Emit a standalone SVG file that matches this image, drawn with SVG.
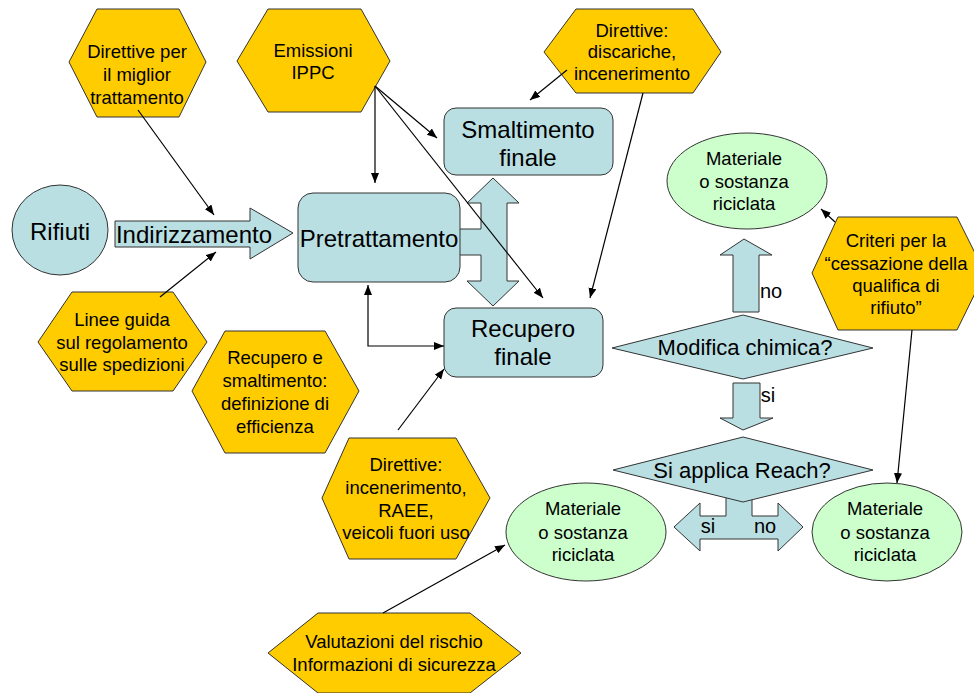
<svg xmlns="http://www.w3.org/2000/svg" width="974" height="693" viewBox="0 0 974 693">
<defs>
<style>
.hex{fill:#FFCC00;stroke:#333;stroke-width:1}
.blue{fill:#B9DFE3;stroke:#333;stroke-width:1}
.green{fill:#CCFFCC;stroke:#333;stroke-width:1}
.t{font-family:"Liberation Sans",Arial,sans-serif;fill:#000;text-anchor:middle}
.s{font-size:18.5px}
.b{font-size:24px}
.d{font-size:22px}
.l{font-size:20px}
.ln{fill:none;stroke:#000;stroke-width:1.2}
</style>
<marker id="ah" markerUnits="userSpaceOnUse" markerWidth="11" markerHeight="9" refX="10" refY="4" orient="auto-start-reverse">
<path d="M0,0 L10,4 L0,8 z" fill="#000"/>
</marker>
</defs>
<rect width="974" height="693" fill="#fff"/>

<g id="block-arrows">
<polygon class="blue" points="493,178 519,203 507,203 507,281 519,281 493,306 467,281 481,281 481,255 459,255 459,229 481,229 481,203 467,203"/>
<polygon class="blue" points="744,239 772,255 759,255 759,312 733,312 733,255 720,255"/>
<polygon class="blue" points="733,383 760,383 760,418 773,418 743,430 720,418 733,418"/>
<polygon class="blue" points="674,527 700,503 700,516 726,516 726,495 752,495 752,516 778,516 778,503 803,527 778,551 778,539 700,539 700,551"/>
</g>

<g id="rifiuti">
<ellipse class="blue" cx="60" cy="230" rx="48" ry="45"/>
<text class="t b" x="60" y="240">Rifiuti</text>
</g>
<g id="indirizzamento">
<polygon class="blue" points="115,221 250,221 250,208 293,233 250,259 250,247 115,247"/>
<text class="t b" x="194" y="243">Indirizzamento</text>
</g>
<g id="pretrattamento">
<rect class="blue" x="298" y="193" width="162" height="89" rx="15"/>
<text class="t b" x="379" y="247">Pretrattamento</text>
</g>
<g id="smaltimento">
<rect class="blue" x="444" y="108" width="169" height="67" rx="12"/>
<text class="t b" x="528" y="138">Smaltimento</text>
<text class="t b" x="528" y="166">finale</text>
</g>
<g id="recupero">
<rect class="blue" x="444" y="308" width="159" height="69" rx="12"/>
<text class="t b" x="523" y="337">Recupero</text>
<text class="t b" x="523" y="365">finale</text>
</g>

<g id="hex-miglior">
<polygon class="hex" points="69,62 97,9 179,9 206,62 179,117 97,117"/>
<text class="t s" x="137" y="58">Direttive per</text>
<text class="t s" x="137" y="81">il miglior</text>
<text class="t s" x="137" y="104">trattamento</text>
</g>
<g id="hex-ippc">
<polygon class="hex" points="237,61 268,9 361,9 390,61 361,112 268,112"/>
<text class="t s" x="313" y="57">Emissioni</text>
<text class="t s" x="313" y="79">IPPC</text>
</g>
<g id="hex-discariche">
<polygon class="hex" points="544,52 576,9 693,9 721,52 693,93 576,93"/>
<text class="t s" x="632" y="37">Direttive:</text>
<text class="t s" x="632" y="58">discariche,</text>
<text class="t s" x="632" y="80">incenerimento</text>
</g>
<g id="hex-linee">
<polygon class="hex" points="38,342 72,292 173,292 207,342 173,391 72,391"/>
<text class="t s" x="122" y="326">Linee guida</text>
<text class="t s" x="122" y="349">sul regolamento</text>
<text class="t s" x="122" y="371">sulle spedizioni</text>
</g>
<g id="hex-efficienza">
<polygon class="hex" points="192,391 225,331 325,331 359,391 325,453 225,453"/>
<text class="t s" x="275" y="364">Recupero e</text>
<text class="t s" x="275" y="387">smaltimento:</text>
<text class="t s" x="275" y="410">definizione di</text>
<text class="t s" x="275" y="433">efficienza</text>
</g>
<g id="hex-incenerimento">
<polygon class="hex" points="322,498 349,438 456,438 490,498 456,559 349,559"/>
<text class="t s" x="406" y="471">Direttive:</text>
<text class="t s" x="406" y="494">incenerimento,</text>
<text class="t s" x="406" y="517">RAEE,</text>
<text class="t s" x="406" y="539">veicoli fuori uso</text>
</g>
<g id="hex-criteri">
<polygon class="hex" points="812,273 838,217 957,217 985,273 957,330 838,330"/>
<text class="t s" x="896" y="247">Criteri per la</text>
<text class="t s" x="896" y="270">“cessazione della</text>
<text class="t s" x="896" y="292">qualifica di</text>
<text class="t s" x="896" y="314">rifiuto”</text>
</g>
<g id="hex-valutazioni">
<polygon class="hex" points="268,653 318,613 470,613 521,653 470,693 318,693"/>
<text class="t s" x="394" y="648">Valutazioni del rischio</text>
<text class="t s" x="394" y="671">Informazioni di sicurezza</text>
</g>

<g id="materiale-top">
<ellipse class="green" cx="747" cy="181" rx="80" ry="48"/>
<text class="t s" x="744" y="165">Materiale</text>
<text class="t s" x="744" y="188">o sostanza</text>
<text class="t s" x="744" y="210">riciclata</text>
</g>
<g id="modifica">
<polygon class="blue" points="612,348 743,315 873,348 743,379"/>
<text class="t d" x="745" y="355">Modifica chimica?</text>
</g>
<g id="reach">
<polygon class="blue" points="613,470 743,437 873,470 743,502"/>
<text class="t d" x="742" y="478">Si applica Reach?</text>
</g>
<g id="materiale-left">
<ellipse class="green" cx="586" cy="532" rx="80" ry="49"/>
<text class="t s" x="583" y="515">Materiale</text>
<text class="t s" x="583" y="539">o sostanza</text>
<text class="t s" x="583" y="561">riciclata</text>
</g>
<g id="materiale-right">
<ellipse class="green" cx="887" cy="532" rx="75" ry="49"/>
<text class="t s" x="885" y="515">Materiale</text>
<text class="t s" x="885" y="539">o sostanza</text>
<text class="t s" x="885" y="561">riciclata</text>
</g>

<g id="labels">
<text class="t l" x="771" y="298">no</text>
<text class="t l" x="768" y="402">si</text>
<text class="t l" x="708" y="533">si</text>
<text class="t l" x="765" y="533">no</text>
</g>

<g id="connectors">
<line class="ln" x1="138" y1="110" x2="214" y2="215" marker-end="url(#ah)"/>
<line class="ln" x1="160" y1="297" x2="216" y2="252" marker-end="url(#ah)"/>
<line class="ln" x1="375" y1="86" x2="375" y2="183" marker-end="url(#ah)"/>
<line class="ln" x1="375" y1="86" x2="437" y2="138" marker-end="url(#ah)"/>
<line class="ln" x1="375" y1="86" x2="543" y2="298" marker-end="url(#ah)"/>
<line class="ln" x1="567" y1="70" x2="530" y2="100" marker-end="url(#ah)"/>
<line class="ln" x1="643" y1="93" x2="590" y2="298" marker-end="url(#ah)"/>
<path class="ln" d="M368,285 V346 H444" marker-start="url(#ah)" marker-end="url(#ah)"/>
<line class="ln" x1="398" y1="430" x2="444" y2="369" marker-end="url(#ah)"/>
<line class="ln" x1="383" y1="613" x2="505" y2="545" marker-end="url(#ah)"/>
<line class="ln" x1="835" y1="222" x2="821" y2="209" marker-end="url(#ah)"/>
<line class="ln" x1="912" y1="330" x2="897" y2="483" marker-end="url(#ah)"/>
</g>
</svg>
